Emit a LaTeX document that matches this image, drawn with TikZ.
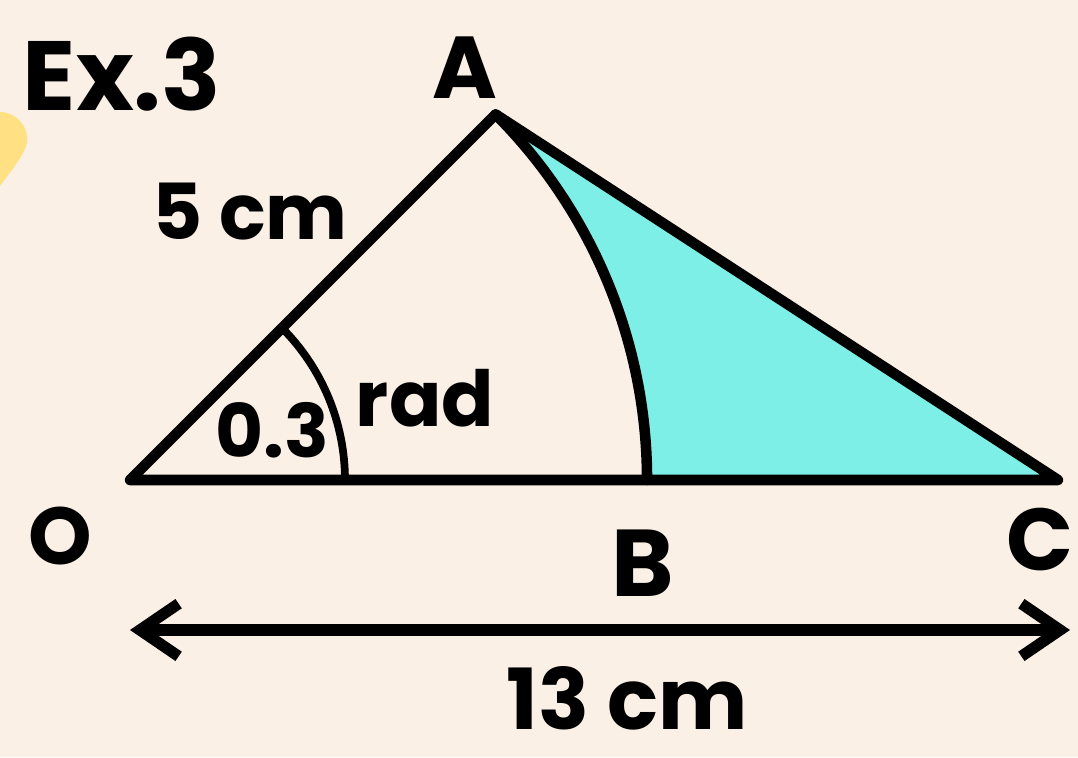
\documentclass[tikz,border=0pt]{standalone}
\usepackage{fontspec}
\setmainfont{Poppins}
\usetikzlibrary{arrows.meta,positioning,calc}
\definecolor{paper}{HTML}{FAF0E6}
\definecolor{sector}{HTML}{7EEFE6}
\definecolor{blob}{HTML}{FFE184}

\begin{document}
\begin{tikzpicture}[
  x=0.02cm,y=-0.02cm,
  edge/.style={line width=6pt,line cap=round,line join=round},
  anglearc/.style={line width=4.4pt,line cap=round},
  dim/.style={line width=6.4pt,line cap=round,{Straight Barb[length=22pt,width=30pt]}-{Straight Barb[length=22pt,width=30pt]}},
  hand/.style={inner sep=0pt,font=\bfseries\fontsize{#1}{#1}\selectfont},
]
\fill[paper] (0,0) rectangle (1078,757);
\useasboundingbox (0,0) rectangle (1078,757);
\fill[blob] (0,112) .. controls (16,112) and (29,126) .. (27,143) .. controls (24,156) and (10,172) .. (0,186) -- cycle;

\coordinate (O) at (130,480);
\coordinate (A) at (495.6,114.4);
\coordinate (B) at (647,480);
\coordinate (C) at (1058,480);
\coordinate (M) at (282,328);
\coordinate (dimL) at (130,630);
\coordinate (dimR) at (1070,630);

% shaded part between arc and triangle
\fill[sector] (A) arc[start angle=-45,end angle=0,radius=517] -- (C) -- cycle;

\draw[edge] (O) -- (A) -- (C) -- cycle;
\draw[edge] (A) arc[start angle=-45,end angle=0,radius=517];
\draw[anglearc] (M) arc[start angle=-45,end angle=0,radius=215];
\draw[dim] (dimL) -- (dimR);

\node[hand=56] (title) at (122,74) {Ex.3};
\node[hand=50] (labA) at (465,68) {A};
\node[hand=46] (labO) at (60,536) {O};
\node[hand=54] (labB) at (643,563) {B};
\node[hand=50] (labC) at (1040,540) {C};
\node[hand=44] (side) at (250,212) {5 cm};
\node[hand=42] (ang) at (272,430) {0.3};
\node[hand=44] (unit) at (425,398) {rad};
\node[hand=48] (base) at (627,698) {13 cm};
\end{tikzpicture}
\end{document}
